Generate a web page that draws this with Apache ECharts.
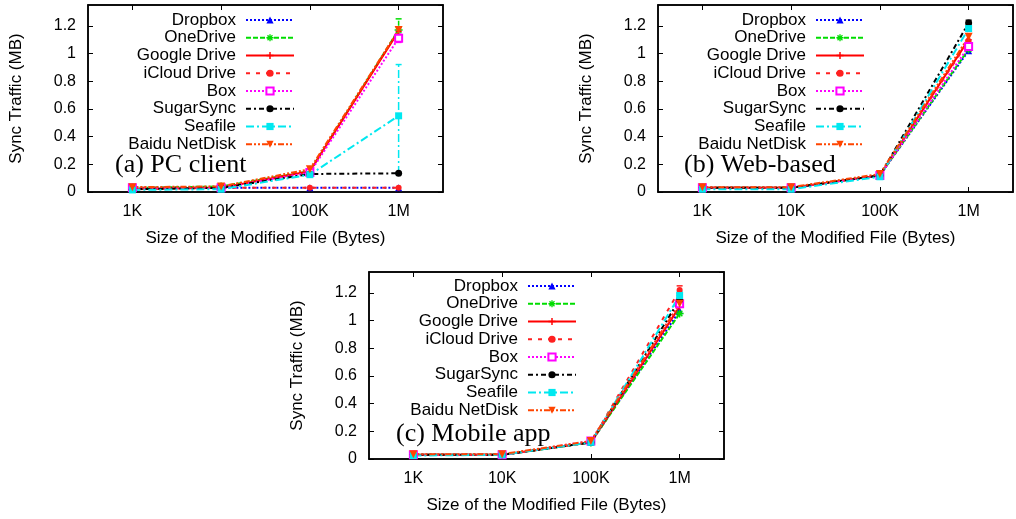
<!DOCTYPE html>
<html>
<head>
<meta charset="utf-8">
<script src="https://cdn.jsdelivr.net/npm/echarts@6/dist/echarts.min.js"></script>
<style>
  html, body { margin: 0; padding: 0; background: #fff; }
  #chart { width: 1016px; height: 519px; }
</style>
</head>
<body>
<div id="chart"></div>
<script>
// categories (file size)
const sizes = ['1K', '10K', '100K', '1M']
const services = ['Dropbox', 'OneDrive', 'Google Drive', 'iCloud Drive', 'Box', 'SugarSync', 'Seafile', 'Baidu NetDisk']
const yTicks = [0, 0.2, 0.4, 0.6, 0.8, 1, 1.2]

// (a) PC client, sync traffic in MB
const pcDropbox = [0.03, 0.03, 0.03, 0.03]
const pcOneDrive = [0.03, 0.04, 0.15, 1.17]
const pcGoogle = [0.02, 0.03, 0.15, 1.16]
const pcICloud = [0.03, 0.03, 0.03, 0.03]
const pcBox = [0.03, 0.03, 0.14, 1.11]
const pcSugar = [0.02, 0.03, 0.13, 0.135]
const pcSeafile = [0.015, 0.02, 0.125, 0.55]
const pcBaidu = [0.035, 0.04, 0.165, 1.17]
// error bars [service, size index, low, high]
const pcErrors = [['OneDrive', 3, 1.1, 1.25], ['Box', 3, 1.08, 1.14], ['Seafile', 3, 0.13, 0.92]]

// (b) Web-based
const webDropbox = [0.03, 0.03, 0.12, 1.02]
const webOneDrive = [0.03, 0.03, 0.12, 1.03]
const webGoogle = [0.03, 0.03, 0.12, 1.1]
const webICloud = [0.03, 0.03, 0.12, 1.09]
const webBox = [0.03, 0.03, 0.12, 1.05]
const webSugar = [0.03, 0.03, 0.12, 1.22]
const webSeafile = [0.02, 0.02, 0.11, 1.18]
const webBaidu = [0.035, 0.035, 0.13, 1.12]
const webErrors = [['SugarSync', 3, 1.19, 1.24]]

// (c) Mobile app
const mobDropbox = [0.03, 0.03, 0.12, 1.07]
const mobOneDrive = [0.03, 0.03, 0.12, 1.05]
const mobGoogle = [0.03, 0.03, 0.12, 1.1]
const mobICloud = [0.03, 0.03, 0.12, 1.22]
const mobBox = [0.03, 0.03, 0.13, 1.12]
const mobSugar = [0.03, 0.03, 0.12, 1.15]
const mobSeafile = [0.025, 0.03, 0.12, 1.18]
const mobBaidu = [0.035, 0.035, 0.13, 1.12]
const mobErrors = [['iCloud Drive', 3, 1.18, 1.25], ['Seafile', 3, 1.16, 1.21]]

const font = "'Liberation Sans', Arial, sans-serif"
const star = 'path://M4,0h2v3l2,-2l1.4,1.4l-2,2h3v2h-3l2,2l-1.4,1.4l-2,-2v3h-2v-3l-2,2l-1.4,-1.4l2,-2h-3v-2h3l-2,-2l1.4,-1.4l2,2z'
const plus = 'path://M4,0h2v4h4v2h-4v4h-2v-4h-4v-2h4z'

// line look of each service, gnuplot style
const looks = {
  'Dropbox': { color: '#0000ff', dash: [2, 2], symbol: 'triangle', size: 7 },
  'OneDrive': { color: '#00dd00', dash: [5, 2], symbol: star, size: 8 },
  'Google Drive': { color: '#ff0000', dash: 'solid', symbol: plus, size: 6 },
  'iCloud Drive': { color: '#ff2020', dash: [4, 6], symbol: 'circle', size: 6 },
  'Box': { color: '#ff00ff', dash: [2, 2], symbol: 'emptyRect', size: 7 },
  'SugarSync': { color: '#000000', dash: [5, 3, 2, 3], symbol: 'circle', size: 7 },
  'Seafile': { color: '#00e8f0', dash: [8, 3, 2, 3], symbol: 'rect', size: 7 },
  'Baidu NetDisk': { color: '#ff4500', dash: [6, 2, 2, 2, 2, 2], symbol: 'triangle', size: 8, rotate: 180 },
}

const panels = [
  { grid: { left: 88, top: 5, width: 355, height: 187 }, legendRight: 721, legendTop: 11.5,
    label: '(a) PC client', labelLeft: 115, labelTop: 152,
    data: [pcDropbox, pcOneDrive, pcGoogle, pcICloud, pcBox, pcSugar, pcSeafile, pcBaidu], errors: pcErrors },
  { grid: { left: 658, top: 5, width: 355, height: 187 }, legendRight: 151, legendTop: 11.5,
    label: '(b) Web-based', labelLeft: 684, labelTop: 152,
    data: [webDropbox, webOneDrive, webGoogle, webICloud, webBox, webSugar, webSeafile, webBaidu], errors: webErrors },
  { grid: { left: 369, top: 272, width: 355, height: 187 }, legendRight: 439, legendTop: 277.5,
    label: '(c) Mobile app', labelLeft: 396, labelTop: 421,
    data: [mobDropbox, mobOneDrive, mobGoogle, mobICloud, mobBox, mobSugar, mobSeafile, mobBaidu], errors: mobErrors },
]

const grids = [], xAxes = [], yAxes = [], series = [], legends = [], titles = []
const tick = { show: true, inside: true, length: 5, lineStyle: { color: '#000' } }
const axisLine = { show: true, onZero: false, lineStyle: { color: '#000', width: 1.5 } }

panels.forEach((p, k) => {
  // border of the plot, like gnuplot
  grids.push(Object.assign({ show: true, borderColor: '#000', borderWidth: 1.5, backgroundColor: 'transparent' }, p.grid))
  const xb = xAxes.length
  xAxes.push({
    type: 'category', gridIndex: k, data: sizes, position: 'bottom', boundaryGap: true,
    axisLine: axisLine, axisTick: Object.assign({ alignWithLabel: true }, tick),
    axisLabel: { color: '#000', fontSize: 16, fontFamily: font, margin: 12 },
    name: 'Size of the Modified File (Bytes)', nameLocation: 'middle', nameGap: 38,
    nameTextStyle: { color: '#000', fontSize: 17, fontFamily: font },
  })
  xAxes.push({
    type: 'category', gridIndex: k, data: sizes, position: 'top', boundaryGap: true,
    axisLine: axisLine, axisTick: Object.assign({ alignWithLabel: true }, tick), axisLabel: { show: false },
  })
  const yb = yAxes.length
  yAxes.push({
    type: 'value', gridIndex: k, min: 0, max: 1.35, interval: 0.2, position: 'left',
    axisLine: axisLine, axisTick: tick, splitLine: { show: false },
    axisLabel: { color: '#000', fontSize: 16, fontFamily: font, margin: 12, showMaxLabel: false,
      formatter: (v) => (yTicks.indexOf(Math.round(v * 10) / 10) >= 0 ? String(Math.round(v * 10) / 10) : '') },
    name: 'Sync Traffic (MB)', nameLocation: 'middle', nameGap: 63,
    nameTextStyle: { color: '#000', fontSize: 17, fontFamily: font },
  })
  yAxes.push({
    type: 'value', gridIndex: k, min: 0, max: 1.35, interval: 0.2, position: 'right',
    axisLine: axisLine, axisTick: tick, axisLabel: { show: false }, splitLine: { show: false },
  })

  services.forEach((name, i) => {
    const l = looks[name]
    series.push({
      name: name, type: 'line', xAxisIndex: xb, yAxisIndex: yb, data: p.data[i],
      symbol: l.symbol, symbolSize: l.size, symbolRotate: l.rotate || 0, showAllSymbol: true,
      lineStyle: { color: l.color, width: 2, type: l.dash },
      itemStyle: { color: l.color, borderColor: l.color, borderWidth: l.symbol === 'emptyRect' ? 1.5 : 0 },
      emphasis: { disabled: true }, animation: false,
    })
  })

  // empty series so the mirror axes are drawn
  series.push({ type: 'line', xAxisIndex: xb + 1, yAxisIndex: yb + 1, data: [], silent: true })

  series.push({
    type: 'custom', xAxisIndex: xb, yAxisIndex: yb, animation: false, silent: true,
    data: p.errors.map((e) => ({ value: [e[1], e[2], e[3]], name: e[0] })),
    renderItem: (params, api) => {
      const look = looks[p.errors[params.dataIndex][0]]
      const lo = api.coord([api.value(0), api.value(1)])
      const hi = api.coord([api.value(0), api.value(2)])
      const style = { stroke: look.color, lineWidth: 1.5, lineDash: look.dash === 'solid' ? null : look.dash }
      return {
        type: 'group',
        children: [
          { type: 'line', shape: { x1: lo[0], y1: lo[1], x2: hi[0], y2: hi[1] }, style: style },
          { type: 'line', shape: { x1: lo[0] - 3, y1: lo[1], x2: lo[0] + 3, y2: lo[1] }, style: { stroke: look.color, lineWidth: 1.5 } },
          { type: 'line', shape: { x1: hi[0] - 3, y1: hi[1], x2: hi[0] + 3, y2: hi[1] }, style: { stroke: look.color, lineWidth: 1.5 } },
        ],
      }
    },
  })

  legends.push({
    data: services, orient: 'vertical', align: 'right', right: p.legendRight, top: p.legendTop,
    padding: 0, itemGap: 0.75, itemWidth: 48, itemHeight: 9, selectedMode: false,
    textStyle: { color: '#000', fontSize: 17, fontFamily: font, lineHeight: 17, padding: [0, 5, 0, 0] },
  })

  titles.push({
    text: p.label, left: p.labelLeft, top: p.labelTop, padding: 0,
    textStyle: { fontFamily: "'Liberation Serif', 'Times New Roman', serif", fontSize: 26, fontWeight: 'normal', color: '#000' },
  })
})

const myChart = echarts.init(document.getElementById('chart'))
myChart.setOption({
  animation: false,
  title: titles,
  legend: legends,
  grid: grids,
  xAxis: xAxes,
  yAxis: yAxes,
  series: series,
})
</script>
</body>
</html>
